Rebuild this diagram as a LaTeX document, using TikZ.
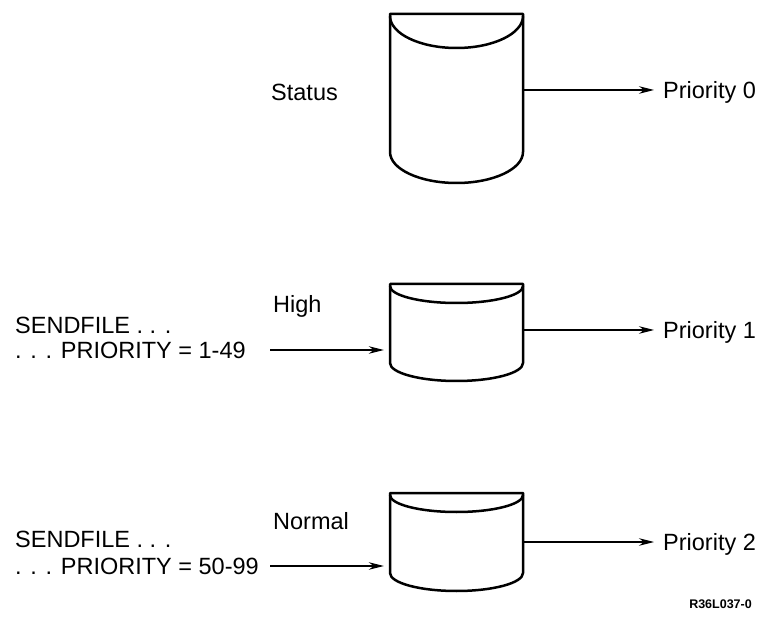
\documentclass[tikz,border=0pt]{standalone}
\usepackage{fontspec}
\setmainfont{Liberation Sans}
\usetikzlibrary{arrows.meta,fit}

\tikzset{
  drumline/.style={line width=2.5pt, line join=round},
  flow/.style={line width=1.2pt, -{Stealth[length=15pt,width=7.5pt]}},
  lbl/.style={inner sep=0pt, anchor=west, text height=16.5pt, text depth=0pt,
              font=\fontsize{23.5}{26}\selectfont},
  tag/.style={inner sep=0pt, anchor=east, font=\fontsize{12.5}{14}\selectfont\bfseries},
}

% \drum{name}{left}{right}{top}{inner arc bottom}{side end}{bottom}
\newcommand{\drum}[7]{%
  \pgfmathsetmacro\dmid{(#2+#3)/2}%
  \pgfmathsetmacro\dhw{0.552*(#3-#2)/2}%
  \pgfmathsetmacro\dbot{#6+0.552*(#7-#6)}%
  \pgfmathsetmacro\dtop{#4+2}%
  \pgfmathsetmacro\din{\dtop+0.552*(#5-\dtop)}%
  \draw[drumline] (#2,#6) -- (#2,#4) -- (#3,#4) -- (#3,#6)
    .. controls (#3,\dbot) and ({\dmid+\dhw},#7) .. (\dmid,#7)
    .. controls ({\dmid-\dhw},#7) and (#2,\dbot) .. cycle;
  \draw[drumline] (#2,\dtop)
    .. controls (#2,\din) and ({\dmid-\dhw},#5) .. (\dmid,#5)
    .. controls ({\dmid+\dhw},#5) and (#3,\din) .. (#3,\dtop);
  \node[fit={(#2,#4) (#3,#7)}, inner sep=0pt] (#1) {};
}

\begin{document}
\begin{tikzpicture}[x=1pt, y=-1pt]
  \useasboundingbox (0,0) rectangle (766,617);

  % queues
  \drum{d0}{390}{523}{14}{48}{152}{183}
  \drum{d1}{390}{523}{284}{303}{363}{381}
  \drum{d2}{390}{523}{493}{512}{573}{591}

  % queue names
  \node[lbl] (st) at (271,92) {Status};
  \node[lbl] (hi) at (273,304) {High};
  \node[lbl] (no) at (273,521) {Normal};

  % outputs
  \node[lbl] (p0) at (663,90) {Priority 0};
  \node[lbl] (p1) at (663,330) {Priority 1};
  \node[lbl] (p2) at (663,542) {Priority 2};

  \draw[flow, shorten >=9pt] (d0.east |- p0.west) -- (p0.west);
  \draw[flow, shorten >=9pt] (d1.east |- p1.west) -- (p1.west);
  \draw[flow, shorten >=9pt] (d2.east |- p2.west) -- (p2.west);

  % commands
  \node[lbl] (s1a) at (15,325) {SENDFILE . . .};
  \node[lbl] (s1b) at (15,350) {. . . PRIORITY = 1-49};
  \node[lbl] (s2a) at (15,539) {SENDFILE . . .};
  \node[lbl] (s2b) at (15,566) {. . . PRIORITY = 50-99};

  \coordinate (in1) at (270,350);
  \coordinate (in2) at (270,566);
  \draw[flow, shorten >=6pt] (in1) -- (in1 -| d1.west);
  \draw[flow, shorten >=6pt] (in2) -- (in2 -| d2.west);

  \node[tag] (id) at (752,604) {R36L037-0};
\end{tikzpicture}
\end{document}
